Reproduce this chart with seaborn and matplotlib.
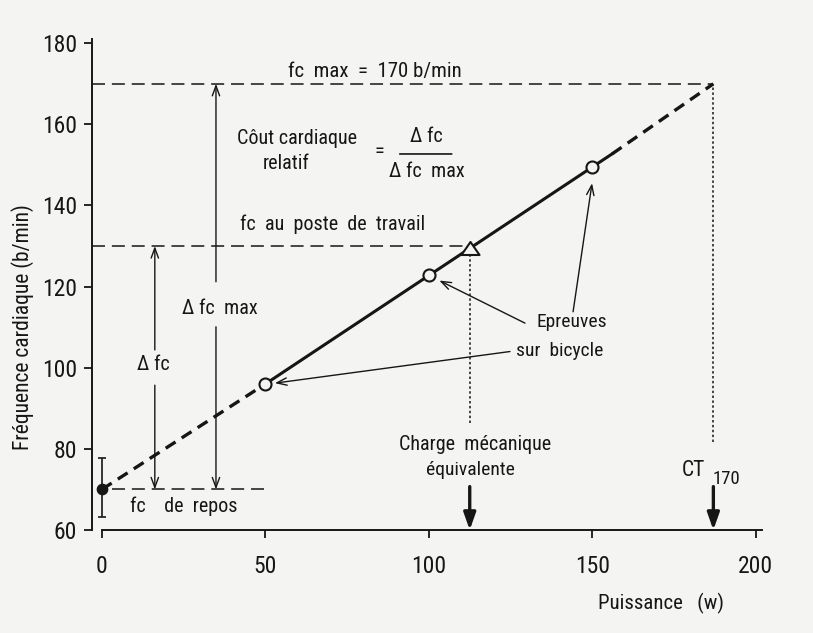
import matplotlib
matplotlib.use("Agg")
import matplotlib.pyplot as plt
import seaborn as sns
from matplotlib.path import Path
from matplotlib import font_manager as fm

# ---------------- data ----------------
power_ticks = [0, 50, 100, 150, 200]
hr_ticks = [60, 80, 100, 120, 140, 160, 180]

rest_power = [0]
rest_hr = [70]
rest_err_low = [6.7]
rest_err_high = [7.7]

test_power = [50, 100, 150]
test_hr = [96, 122.8, 149.5]

dash_low_power = [0, 50]
dash_low_hr = [70, 96]
solid_power = [50, 156]
solid_hr = [96, 152.7]
dash_high_power = [156, 187]
dash_high_hr = [152.7, 170]

fc_max = 170
fc_poste = 130
fc_repos = 70
charge_eq = 112.5
ct170 = 187
poste_point_power = [112.5]
poste_point_hr = [129.5]


# ---------------- font: pick a condensed sans if one is installed ----------------
def pick_font():
    entries = fm.fontManager.ttflist

    def ok(f):
        w = f.weight
        return f.style == "normal" and w in (400, "normal", "regular", "book")

    prefs = ["Liberation Sans Narrow", "Roboto Condensed", "Noto Sans Condensed",
             "Open Sans Condensed", "DejaVu Sans Condensed"]
    for p in prefs:
        for f in entries:
            if f.name == p and ok(f):
                return f.fname
    for f in entries:
        if ("Narrow" in f.name or "Condensed" in f.name) and ok(f):
            return f.fname
    for stretch in ("condensed", "semi-condensed", 75, 87.5):
        for name in ("Noto Sans", "Roboto", "Open Sans", "DejaVu Sans", "Liberation Sans"):
            for f in entries:
                if f.name == name and f.stretch == stretch and ok(f):
                    return f.fname
    return None


font_path = pick_font()

sns.set_theme(style="ticks")
plt.rcParams["font.family"] = ["Liberation Sans", "DejaVu Sans"]
bg = "#f4f4f2"
ink = "#161616"
plt.rcParams["text.color"] = ink


def FP(size):
    if font_path:
        return fm.FontProperties(fname=font_path, size=size)
    return fm.FontProperties(family=["Liberation Sans", "DejaVu Sans"], size=size * 0.85)


fig = plt.figure(figsize=(8.13, 6.33), dpi=100, facecolor=bg)
ax = fig.add_axes([0.1132, 0.1627, 0.8286, 0.7754])
ax.set_facecolor("none")
ax.set_xlim(-3, 203)
ax.set_ylim(60, 181)

# main regression line
sns.lineplot(x=dash_low_power, y=dash_low_hr, ax=ax, color=ink, lw=2.4)
ax.lines[-1].set_dashes((3.5, 2.2))
sns.lineplot(x=solid_power, y=solid_hr, ax=ax, color=ink, lw=2.2)
sns.lineplot(x=dash_high_power, y=dash_high_hr, ax=ax, color=ink, lw=2.4)
ax.lines[-1].set_dashes((3.5, 2.2))

# reference dashed lines
thin_dash = (0, (8.5, 4.5))
ax.hlines(fc_max, -3, ct170, color=ink, lw=1.1, linestyle=thin_dash)
ax.hlines(fc_poste, -3, charge_eq, color=ink, lw=1.1, linestyle=thin_dash)
ax.hlines(fc_repos, 3, 50, color=ink, lw=1.1, linestyle=thin_dash)
ax.vlines(charge_eq, 86.3, fc_poste, color=ink, lw=1.1, linestyle=(0, (1.6, 1.6)))
ax.vlines(ct170, 81.8, fc_max, color=ink, lw=1.1, linestyle=(0, (1.6, 1.6)))

# resting point with error bar
ax.errorbar(rest_power, rest_hr, yerr=[rest_err_low, rest_err_high], fmt="none",
            ecolor=ink, elinewidth=1.2, capsize=3, capthick=1.2, zorder=4)
sns.scatterplot(x=rest_power, y=rest_hr, ax=ax, s=55, color=ink, edgecolor=ink,
                linewidth=1, zorder=6)

# test points
sns.scatterplot(x=test_power, y=test_hr, ax=ax, s=75, color=bg, edgecolor=ink,
                linewidth=1.5, zorder=6)

# triangle (fc au poste de travail)
tri = Path([(-1, -0.72), (1, -0.72), (0, 0.72), (-1, -0.72)],
           [Path.MOVETO, Path.LINETO, Path.LINETO, Path.CLOSEPOLY])
sns.scatterplot(x=poste_point_power, y=poste_point_hr, ax=ax, s=169, marker=tri,
                color=bg, edgecolor=ink, linewidth=1.5, zorder=6)

# axes
sns.despine(ax=ax)
ax.spines["left"].set_bounds(60, 181)
ax.spines["bottom"].set_bounds(0, 202)
for s in ("left", "bottom"):
    ax.spines[s].set_linewidth(1.4)
    ax.spines[s].set_color(ink)
ax.set_xticks(power_ticks)
ax.set_yticks(hr_ticks)
ax.tick_params(axis="y", direction="out", length=5.5, width=1.3, pad=5.5, colors=ink)
ax.tick_params(axis="x", direction="out", length=6, width=1.3, pad=12, colors=ink)
for lab in ax.get_xticklabels() + ax.get_yticklabels():
    lab.set_fontproperties(FP(17))

fs = 14.5


def T(x, y, s, size=fs, **kw):
    kw.setdefault("ha", "center")
    kw.setdefault("va", "center")
    ax.text(x, y, s, fontproperties=FP(size), color=ink, **kw)


# labels
T(-24.2, 110, "Fréquence cardiaque (b/min)", size=15.5, rotation=90)
T(171, 41.9, "Puissance   (w)", size=15)

# annotations text
T(57, 173, "fc  max  =  170 b/min", size=15, ha="left")
T(41.3, 156.6, "Côut cardiaque", ha="left")
T(56.3, 150.4, "relatif")
T(85, 153.2, "=")
T(99.3, 157.0, "Δ fc")
ax.annotate("", xy=(107, 152.7), xytext=(91.1, 152.7),
            arrowprops=dict(arrowstyle="-", lw=1.2, color=ink, shrinkA=0, shrinkB=0))
T(99.3, 148.3, "Δ fc  max")
T(42.2, 135.4, "fc  au  poste  de  travail", ha="left")
T(36, 114.7, "Δ fc  max")
T(15.7, 100.7, "Δ fc")
T(25.1, 65.8, "fc    de  repos")
T(143.6, 111.2, "Epreuves", size=14)
T(140, 104.1, "sur  bicycle", size=14)
T(114, 81.0, "Charge  mécanique")
T(112.7, 74.8, "équivalente", size=14)
T(177.4, 74.7, "CT", size=15.5, ha="left")
T(186.9, 72.6, "170", size=13.5, ha="left")

thin = dict(arrowstyle="->,head_length=0.6,head_width=0.22", lw=1.0, color=ink,
            shrinkA=0, shrinkB=0)
# delta fc max arrows
ax.annotate("", xy=(34.9, fc_max), xytext=(34.9, 121.2), arrowprops=thin)
ax.annotate("", xy=(34.9, fc_repos), xytext=(34.9, 110.1), arrowprops=thin)
# delta fc arrows
ax.annotate("", xy=(16.2, fc_poste), xytext=(16.2, 104.4), arrowprops=thin)
ax.annotate("", xy=(16.2, fc_repos), xytext=(16.2, 95.7), arrowprops=thin)
# Epreuves arrows
ax.annotate("", xy=(103.2, 121.5), xytext=(129.4, 111), arrowprops=thin)
ax.annotate("", xy=(149.9, 145.5), xytext=(144.1, 113.8), arrowprops=thin)
ax.annotate("", xy=(52.9, 96.2), xytext=(124.8, 104), arrowprops=thin)

# thick arrows to the x axis
thick = dict(arrowstyle="-|>,head_length=0.85,head_width=0.3", lw=2.4, color=ink,
             shrinkA=0, shrinkB=0)
ax.annotate("", xy=(charge_eq, 60), xytext=(charge_eq, 70.7), arrowprops=thick)
ax.annotate("", xy=(ct170, 60), xytext=(ct170, 70.7), arrowprops=thick)

fig.savefig("out.png", dpi=100, facecolor=bg)
